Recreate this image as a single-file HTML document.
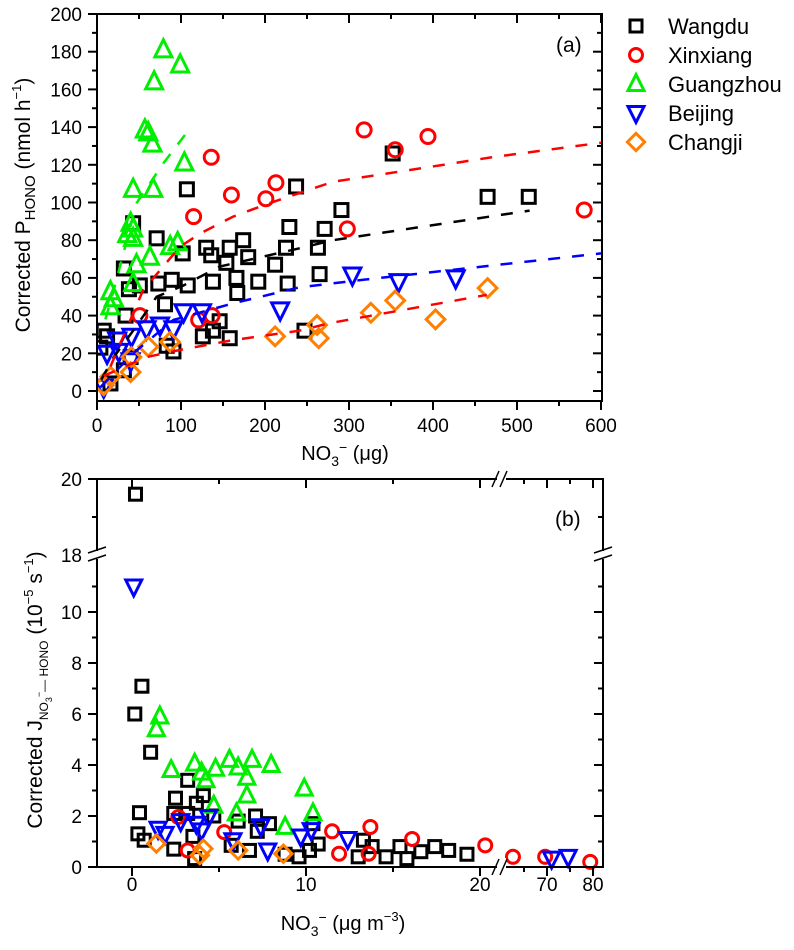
<!DOCTYPE html>
<html><head><meta charset="utf-8"><style>
html,body{margin:0;padding:0;background:#fff;}
svg text{font-family:"Liberation Sans",Arial,sans-serif;fill:#000;}
</style></head><body>
<svg id="chart" width="794" height="945" viewBox="0 0 794 945" xmlns="http://www.w3.org/2000/svg">
<g id="gA"></g>
<g id="gB"></g>
<g id="legend"></g>
<text x="556" y="52" font-size="21">(a)</text>
<text x="555" y="526" font-size="21">(b)</text>
<text transform="translate(30,205) rotate(-90)" text-anchor="middle" font-size="21">Corrected P<tspan font-size="15" dy="5">HONO</tspan><tspan dy="-5"> (nmol h</tspan><tspan font-size="13" dy="-9">−1</tspan><tspan dy="9">)</tspan></text>
<text x="345" y="460" text-anchor="middle" font-size="20">NO<tspan font-size="14" dy="6">3</tspan><tspan font-size="14" dy="-14">−</tspan><tspan dy="8"> (μg)</tspan></text>
<text transform="translate(42,690) rotate(-90)" text-anchor="middle" font-size="21">Corrected J<tspan font-size="12" dy="6">NO</tspan><tspan font-size="9" dy="4">3</tspan><tspan font-size="9" dy="-10">−</tspan><tspan font-size="12" dy="6">— HONO</tspan><tspan dy="-6"> (10</tspan><tspan font-size="13" dy="-9">−5</tspan><tspan dy="9"> s</tspan><tspan font-size="13" dy="-9">−1</tspan><tspan dy="9">)</tspan></text>
<text x="343" y="930" text-anchor="middle" font-size="20">NO<tspan font-size="14" dy="6">3</tspan><tspan font-size="14" dy="-14">−</tspan><tspan dy="8"> (μg m</tspan><tspan font-size="13" dy="-9">−3</tspan><tspan dy="9">)</tspan></text>
</svg>
<script>
// ---------- Panel (a) data ----------
const wangduAX=[107,237,291,229,271,352,71,174,158,130,225,263,180,136,154,212,102,43,32,73,89,108,138,166,192,227,167,265,81,34,146,138,126,158,247,91,83,8,12,4,40,32,16,38,51,465,514];
const wangduAY=[107,108.5,96,87,86,126,81,80,76,76,76,76,71,72,68,67,73,89,65,57,59,56,58,60,58,57,52,62,46,40,37,32,29,28,32,21,24,32,29,23,18,11,4,54,56,103,103];
const xinxAX=[136,115,160,201,213,318,355,394,580,298,51,121,137];
const xinxAY=[124,92.5,104,102,110.5,138.5,128,135,96,86,40,37.7,40];
const guangAX=[79,99,68,57,61,66,104,43,67,40,43,36,43,96,87,63,47,43,16,20,16];
const guangAY=[181,173,164,138.5,137,131,121,107,107,89,86,83,81,78.7,76.6,71,67,57,52.7,49,44.7];
const beijAX=[304,359,427,218,103,125,75,59,91,41,24,12,26,8,40];
const beijAY=[61.5,58,60,43,42,42,35,33,33,29,27,20,21,2,16];
const changAX=[326,355,403,465,212,262,264,87,61,41,40,16,8];
const changAY=[41.5,48,38,54.6,29,35,28,26,23.5,18,10,7.6,3];
// fit curves
const fitWangduX=[5,20,43,71,103,146,241,281,400,515];
const fitWangduY=[6,18,32,50,56,66,75.7,80,88,95.7];
const fitXinxX=[16,55,99,123,162,205,281,369,470,600];
const fitXinxY=[13,53.6,76.6,83.6,92.5,99.6,111,117,124,131.7];
const fitGuangX=[10,20,47,79,105];
const fitGuangY=[38,53.6,99.6,120.8,136];
const fitBeijX=[4,43,91,162,241,317,600];
const fitBeijY=[2,20,37.7,46.5,55,59,73];
const fitChangX=[8,59,99,162,241,277,464];
const fitChangY=[8,18,21.8,27,32,36,51];
const xTicksA=[0,100,200,300,400,500,600];
const yTicksA=[0,20,40,60,80,100,120,140,160,180,200];

// ---------- Panel (b) data ----------
const wangduBX=[0.2,0.57,0.16,1.07,0.43,0.34,3.2,2.5,3.7,4.1,2.4,3.2,4.7,6.1,7.1,7.9,7.2,3.5,2.4,5.7,6.75,8.8,10.2,10.7,10.4,13.3,13.8,13,14.6,15.4,15.8,16.6,17.4,18.2,19.25,9.6,3.6,0.7];
const wangduBY=[19.6,7.09,6.0,4.5,2.13,1.3,3.4,2.7,2.5,2.8,2.1,2.1,2.0,1.8,2.0,1.7,1.4,1.2,0.7,0.85,0.65,0.5,0.65,0.9,1.7,1.05,0.8,0.4,0.4,0.8,0.33,0.6,0.8,0.65,0.5,0.4,0.33,1.05];
const xinxBX=[2.66,5.3,3.2,11.5,11.9,13.7,13.6,16.1,20.3,62.6,69.6,79.4];
const xinxBY=[1.96,1.37,0.65,1.4,0.52,1.57,0.52,1.1,0.85,0.4,0.4,0.2];
const guangBX=[1.6,1.4,2.25,3.6,4.0,4.8,5.6,6.1,6.9,8.0,4.25,6.6,6.6,4.7,6.0,8.8,9.9,10.4];
const guangBY=[5.9,5.4,3.8,4.05,3.7,3.85,4.2,3.9,4.2,4.0,3.4,3.5,2.8,2.4,2.1,1.57,3.07,2.1];
const beijBX=[0.1,1.5,1.9,2.8,3.7,4.4,4.0,5.8,7.4,7.8,9.7,10.3,12.4,71,74.6];
const beijBY=[11.0,1.5,1.3,1.8,1.7,1.96,1.44,1.05,1.6,0.65,1.2,1.45,1.1,0.33,0.4];
const changBX=[1.4,4.1,3.9,6.1,8.7];
const changBY=[0.92,0.72,0.46,0.65,0.52];
const xTicksB1=[0,10,20];
const xTicksB2=[70,80];
const yTicksB1=[0,2,4,6,8,10];
const yTicksB2=[18,20];

const NS="http://www.w3.org/2000/svg";
function mk(tag,attrs,parent){const e=document.createElementNS(NS,tag);for(const k in attrs)e.setAttribute(k,attrs[k]);parent.appendChild(e);return e;}

// axis functions
const ax=v=>97+v*0.84;
const ay=v=>391-v*1.885;
const bx=v=>v<=21.2?132+v*17.4:501+(v-60)*4.6;
const by=v=>v<=12.5?867-v*25.5:555-(v-18)*38;

const COL={w:"#000",x:"#ff0000",g:"#00ee00",b:"#0000ff",c:"#ff8000"};

function marker(kind,cx,cy,s,parent,name){
  let e;
  const sw=3;
  if(kind==="w"){e=mk("rect",{x:cx-s/2,y:cy-s/2,width:s,height:s,fill:"none",stroke:COL.w,"stroke-width":sw},parent);}
  else if(kind==="x"){e=mk("circle",{cx:cx,cy:cy,r:s/2+0.5,fill:"none",stroke:COL.x,"stroke-width":sw},parent);}
  else if(kind==="g"){const h=s*0.62;e=mk("polygon",{points:`${cx},${cy-h-2} ${cx-s/2-2},${cy+h-1} ${cx+s/2+2},${cy+h-1}`,fill:"none",stroke:COL.g,"stroke-width":sw},parent);}
  else if(kind==="b"){const h=s*0.62;e=mk("polygon",{points:`${cx},${cy+h+2} ${cx-s/2-2},${cy-h+1} ${cx+s/2+2},${cy-h+1}`,fill:"none",stroke:COL.b,"stroke-width":sw},parent);}
  else {const r=s*0.72;e=mk("polygon",{points:`${cx},${cy-r} ${cx+r},${cy} ${cx},${cy+r} ${cx-r},${cy}`,fill:"none",stroke:COL.c,"stroke-width":sw},parent);}
  
  
  return e;
}

// ---------- Panel A ----------
const gA=document.getElementById("gA");
const clipA=mk("clipPath",{id:"clipA"},gA);
mk("rect",{x:97,y:14,width:505,height:387},clipA);
const fitsA=[[fitGuangX,fitGuangY,COL.g,"fit-guangzhou"],[fitWangduX,fitWangduY,COL.w,"fit-wangdu"],[fitXinxX,fitXinxY,COL.x,"fit-xinxiang"],[fitBeijX,fitBeijY,COL.b,"fit-beijing"],[fitChangX,fitChangY,COL.x,"fit-changji"]];
const seriesA=[["w",wangduAX,wangduAY,"wangdu"],["x",xinxAX,xinxAY,"xinxiang"],["g",guangAX,guangAY,"guangzhou"],["b",beijAX,beijAY,"beijing"],["c",changAX,changAY,"changji"]];
const plotA=mk("g",{"clip-path":"url(#clipA)"},gA);


seriesA.forEach(s=>{
  const g=mk("g",{},plotA);
  
  
  s[1].forEach((v,i)=>marker(s[0],ax(v),ay(s[2][i]),13,g,'point-'+s[3]));
});
fitsA.forEach(f=>{
  const p=mk("polyline",{points:f[0].map((v,i)=>ax(v)+","+ay(f[1][i])).join(" "),fill:"none",stroke:f[2],"stroke-width":2.5,"stroke-dasharray":"12 12"},plotA);
  
  
});
// frame
const frA=mk("rect",{x:97,y:14,width:505,height:387,fill:"none",stroke:"#000","stroke-width":2},gA);


const tkA=mk("g",{stroke:"#000","stroke-width":2},gA);


for(let v=0;v<=600;v+=50){const x=ax(v),L=v%100===0?9:5;mk("line",{x1:x,y1:401,x2:x,y2:401+L},tkA);mk("line",{x1:x,y1:14,x2:x,y2:14+L},tkA);}
for(let v=0;v<=200;v+=10){const y=ay(v),L=v%20===0?9:5;mk("line",{x1:97,y1:y,x2:97-L,y2:y},tkA);mk("line",{x1:602,y1:y,x2:602-L,y2:y},tkA);}
xTicksA.forEach(v=>{const t=mk("text",{x:ax(v),y:432,"text-anchor":"middle","font-size":19},gA);t.textContent=v;
  
  });
yTicksA.forEach(v=>{const t=mk("text",{x:82,y:ay(v)+7,"text-anchor":"end","font-size":19},gA);t.textContent=v;
  
  });

// ---------- Panel B ----------
const gB=document.getElementById("gB");
const seriesB=[["w",wangduBX,wangduBY,"wangdu"],["x",xinxBX,xinxBY,"xinxiang"],["g",guangBX,guangBY,"guangzhou"],["b",beijBX,beijBY,"beijing"],["c",changBX,changBY,"changji"]];
seriesB.forEach(s=>{
  const g=mk("g",{},gB);
  
  
  s[1].forEach((v,i)=>marker(s[0],bx(v),by(s[2][i]),12,g,'point-'+s[3]));
});
const frB=mk("rect",{x:97,y:479,width:506,height:388,fill:"none",stroke:"#000","stroke-width":2},gB);


const tkB=mk("g",{stroke:"#000","stroke-width":2},gB);


[0,5,10,15,20].forEach(v=>{const x=bx(v),L=v%10===0?9:5;mk("line",{x1:x,y1:867,x2:x,y2:867+L},tkB);mk("line",{x1:x,y1:479,x2:x,y2:479+L},tkB);});
[65,70,75,80].forEach(v=>{const x=bx(v),L=v%10===0?9:5;mk("line",{x1:x,y1:867,x2:x,y2:867+L},tkB);mk("line",{x1:x,y1:479,x2:x,y2:479+L},tkB);});
for(let v=0;v<=11;v++){const y=by(v),L=v%2===0?9:5;mk("line",{x1:97,y1:y,x2:97-L,y2:y},tkB);mk("line",{x1:603,y1:y,x2:603-L,y2:y},tkB);}
[18,19,20].forEach(v=>{const y=by(v),L=v%2===0?9:5;mk("line",{x1:97,y1:y,x2:97-L,y2:y},tkB);mk("line",{x1:603,y1:y,x2:603-L,y2:y},tkB);});
// breaks
const brk=mk("g",{},gB);


mk("rect",{x:88,y:551,width:18,height:8,fill:"#fff"},brk);
mk("rect",{x:594,y:551,width:18,height:8,fill:"#fff"},brk);
mk("rect",{x:497,y:470,width:9,height:18,fill:"#fff"},brk);
mk("rect",{x:497,y:858,width:9,height:18,fill:"#fff"},brk);
[[88,553,106,547],[88,561,106,555],[594,553,612,547],[594,561,612,555],[492,487,499,471],[500,487,507,471],[492,875,499,859],[500,875,507,859]].forEach(l=>mk("line",{x1:l[0],y1:l[1],x2:l[2],y2:l[3],stroke:"#000","stroke-width":1.5},brk));
xTicksB1.concat(xTicksB2).forEach(v=>{const t=mk("text",{x:bx(v),y:891,"text-anchor":"middle","font-size":19},gB);t.textContent=v;
  
  });
yTicksB1.concat(yTicksB2).forEach(v=>{const t=mk("text",{x:82,y:by(v)+7,"text-anchor":"end","font-size":19},gB);t.textContent=v;
  
  });

// ---------- Legend ----------
const lg=document.getElementById("legend");
const legNames=["Wangdu","Xinxiang","Guangzhou","Beijing","Changji"];
const legKinds=["w","x","g","b","c"];
legNames.forEach((n,i)=>{
  const y=26+i*29;
  const g=mk("g",{},lg);
  
  
  marker(legKinds[i],636,y,12,g,'legend-marker');
  const t=mk("text",{x:668,y:y+8,"font-size":22},g);t.textContent=n;
  
  
});
</script>
</body></html>
